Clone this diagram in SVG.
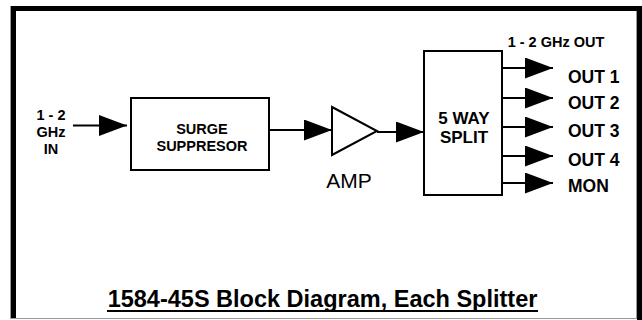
<svg xmlns="http://www.w3.org/2000/svg" width="642" height="320" viewBox="0 0 642 320">
<style>
.b{font-family:"Liberation Sans",Arial,sans-serif;font-weight:bold;fill:#000;}
.r{font-family:"Liberation Sans",Arial,sans-serif;fill:#000;}
.box{fill:#fff;stroke:#000;stroke-width:2;}
.ln{stroke:#000;stroke-width:2.2;fill:none;marker-end:url(#ah);}
</style>
<defs>
<marker id="ah" markerUnits="userSpaceOnUse" markerWidth="28" markerHeight="21" refX="28" refY="10.5" orient="auto" viewBox="0 0 28 21">
<path d="M0,0 L28,10.5 L0,21 Z" fill="#000"/>
</marker>
</defs>
<rect width="642" height="320" fill="#fff"/>
<g id="frame">
<rect x="10.5" y="6.5" width="626" height="312" fill="#fff" stroke="#9a9a9a" stroke-width="1"/>
<rect x="11" y="6" width="5" height="312" fill="#000"/>
<rect x="11" y="6" width="631" height="5" fill="#000"/>
<rect x="637" y="6" width="5" height="314" fill="#000"/>
</g>
<g id="connectors">
<line class="ln" x1="73" y1="125.5" x2="127" y2="125.5"/>
<line class="ln" x1="269" y1="130" x2="332" y2="130"/>
<line class="ln" x1="377" y1="132" x2="424" y2="132"/>
<line class="ln" x1="502" y1="68" x2="553" y2="68"/>
<line class="ln" x1="502" y1="98" x2="553" y2="98"/>
<line class="ln" x1="502" y1="127" x2="553" y2="127"/>
<line class="ln" x1="502" y1="156" x2="553" y2="156"/>
<line class="ln" x1="502" y1="183" x2="553" y2="183"/>
</g>
<g id="input">
<text class="b" font-size="14.5" text-anchor="middle" x="51" y="120">1 - 2</text>
<text class="b" font-size="14.5" text-anchor="middle" x="51" y="137">GHz</text>
<text class="b" font-size="14.5" text-anchor="middle" x="51" y="154">IN</text>
</g>
<g id="surge">
<rect class="box" x="131" y="98" width="138" height="72"/>
<text class="b" font-size="14.5" text-anchor="middle" x="202" y="134">SURGE</text>
<text class="b" font-size="14.5" text-anchor="middle" x="202" y="151">SUPPRESOR</text>
</g>
<g id="amp">
<path class="box" d="M332,107 L377,131 L332,155 Z"/>
<text class="r" font-size="21" text-anchor="middle" x="349" y="188">AMP</text>
</g>
<g id="split">
<rect class="box" x="424" y="51" width="78" height="144"/>
<text class="b" font-size="17" text-anchor="middle" x="464" y="124">5 WAY</text>
<text class="b" font-size="17" text-anchor="middle" x="464" y="143">SPLIT</text>
</g>
<g id="outputs">
<text class="b" font-size="14.5" text-anchor="middle" x="556" y="47">1 - 2 GHz OUT</text>
<text class="b" font-size="17.5" x="568" y="83">OUT 1</text>
<text class="b" font-size="17.5" x="568" y="109">OUT 2</text>
<text class="b" font-size="17.5" x="568" y="137">OUT 3</text>
<text class="b" font-size="17.5" x="568" y="166">OUT 4</text>
<text class="b" font-size="17.5" x="568" y="192">MON</text>
</g>
<g id="title">
<text class="b" font-size="23.5" text-anchor="middle" x="322.5" y="307">1584-45S Block Diagram, Each Splitter</text>
<line x1="107" y1="311" x2="538" y2="311" stroke="#000" stroke-width="1.8"/>
</g>
</svg>
